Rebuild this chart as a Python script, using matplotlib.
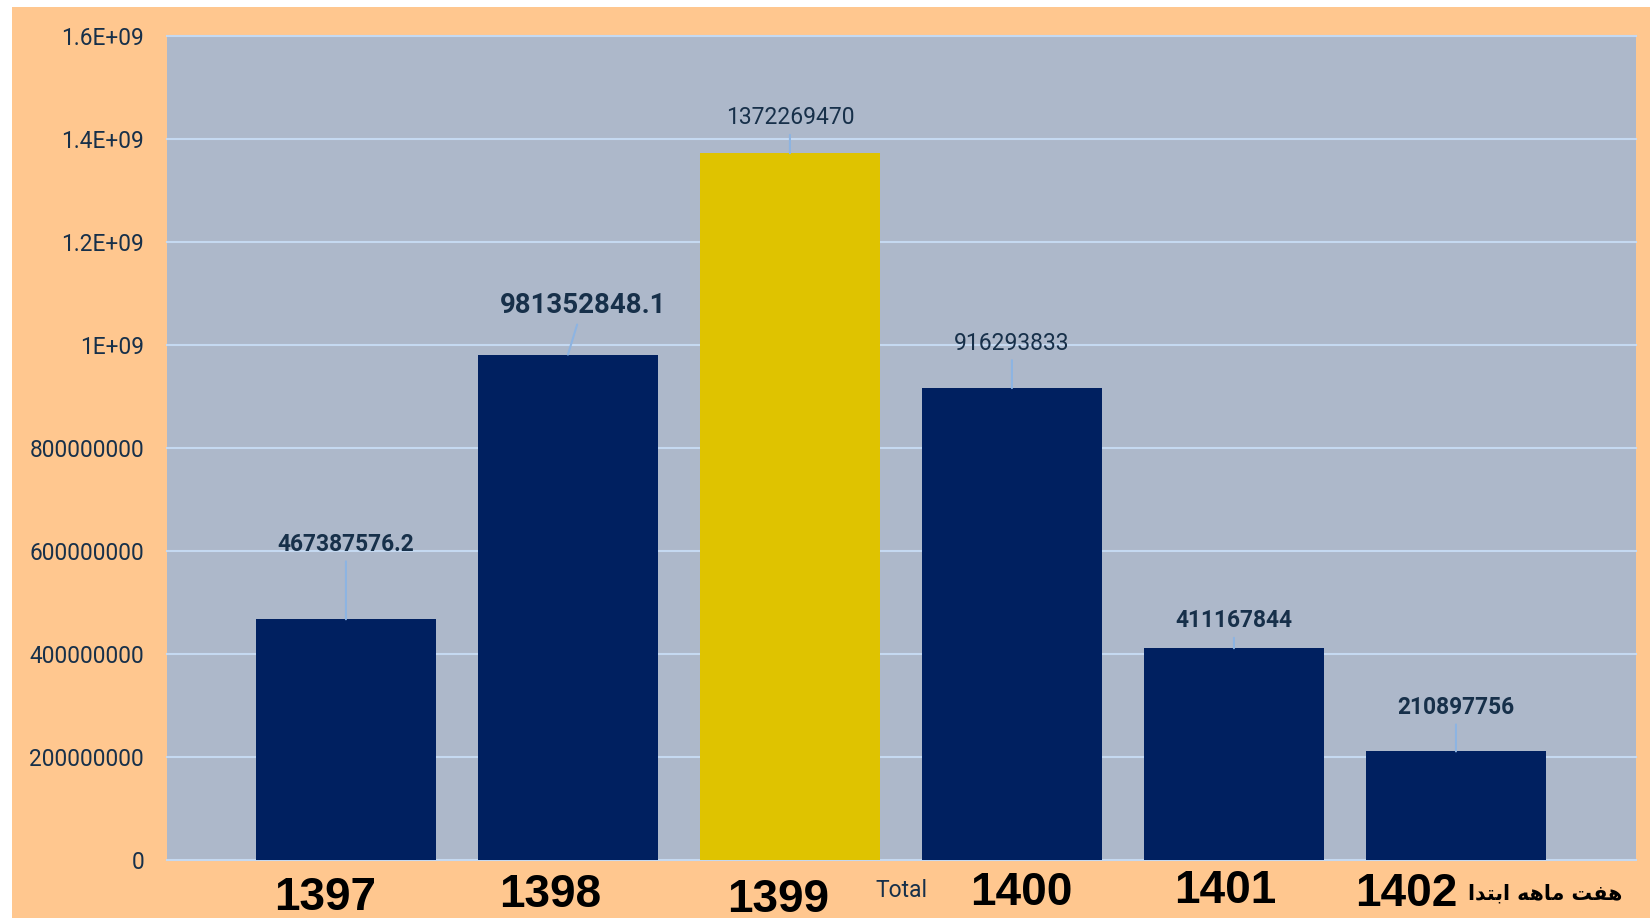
import matplotlib
matplotlib.use("Agg")
import matplotlib.pyplot as plt
from matplotlib.patches import Rectangle
from matplotlib.ticker import FixedLocator, FixedFormatter

# ---------------- data ----------------
categories = ["1397", "1398", "1399", "1400", "1401", "1402"]
values = [467387576.2, 981352848.1, 1372269470, 916293833, 411167844, 210897756]
value_labels = ["467387576.2", "981352848.1", "1372269470", "916293833", "411167844", "210897756"]
ytick_values = [0, 2e8, 4e8, 6e8, 8e8, 1e9, 1.2e9, 1.4e9, 1.6e9]
ytick_labels = ["0", "200000000", "400000000", "600000000", "800000000",
                "1E+09", "1.2E+09", "1.4E+09", "1.6E+09"]
total_text = "Total"
period_note = "هفت ماهه ابتدا"

# ---------------- styles ----------------
W, H, DPI = 1650, 918, 100
ORANGE = "#FFC78F"
PLOT_BG = "#ADB8CA"
NAVY = "#002060"
YELLOW = "#DFC300"
GRID = "#C5D9F1"
LEADER = "#8DB4E2"
TEXT = "#17304A"
bar_colors = [NAVY, NAVY, YELLOW, NAVY, NAVY, NAVY]
label_bold = [True, True, False, False, True, True]
label_size = [16.4, 19.9, 16.5, 16.5, 16.4, 16.4]
label_offset_px = [(0, 75), (15, 49), (0, 35.5), (0, 45), (0, 27.5), (0, 44)]
cat_offset_px = [(-21, -50), (-18, -47), (-12, -52), (9, -45), (-9, -43), (-50, -46)]

plt.rcParams["font.family"] = ["Roboto", "DejaVu Sans"]


def shape_arabic(s):
    # minimal Arabic contextual shaping (presentation forms) + visual reordering
    forms = {
        "\u0647": ("\uFEE9", "\uFEEA", "\uFEEB", "\uFEEC"),
        "\u0641": ("\uFED1", "\uFED2", "\uFED3", "\uFED4"),
        "\u062A": ("\uFE95", "\uFE96", "\uFE97", "\uFE98"),
        "\u0645": ("\uFEE1", "\uFEE2", "\uFEE3", "\uFEE4"),
        "\u0628": ("\uFE8F", "\uFE90", "\uFE91", "\uFE92"),
        "\u0627": ("\uFE8D", "\uFE8E", None, None),
        "\u062F": ("\uFEA9", "\uFEAA", None, None),
    }
    out = []
    for i, ch in enumerate(s):
        if ch not in forms:
            out.append(ch)
            continue
        prev = s[i - 1] if i > 0 else " "
        nxt = s[i + 1] if i + 1 < len(s) else " "
        joins_prev = prev in forms and forms[prev][2] is not None
        joins_next = nxt in forms and forms[ch][2] is not None
        iso, fin, ini, med = forms[ch]
        if joins_prev and joins_next:
            out.append(med)
        elif joins_prev:
            out.append(fin)
        elif joins_next:
            out.append(ini)
        else:
            out.append(iso)
    return "".join(reversed(out))


fig = plt.figure(figsize=(W / DPI, H / DPI), dpi=DPI, facecolor="white")
bg = Rectangle((12 / W, 0), 1 - 12 / W, 1 - 7 / H, transform=fig.transFigure,
               facecolor=ORANGE, edgecolor="none", zorder=-10)
fig.add_artist(bg)

ax = fig.add_axes([167 / W, 58 / H, 1469 / W, 824 / H])
ax.set_zorder(1)
ax.set_facecolor(PLOT_BG)
for sp in ax.spines.values():
    sp.set_visible(False)

x = list(range(len(categories)))
ax.bar(x, values, width=0.81, color=bar_colors, zorder=3)
ax.set_xlim(-0.806, 5.811)
ax.set_ylim(0, 1.6e9)

ax.yaxis.set_major_locator(FixedLocator(ytick_values))
ax.yaxis.set_major_formatter(FixedFormatter(ytick_labels))
for yv in ytick_values:
    ax.axhline(yv, color=GRID, lw=1.5, zorder=1, clip_on=False)
ax.tick_params(axis="y", length=0, pad=16.5, labelsize=16.3, labelcolor=TEXT)
ax.set_xticks([])

for i, v in enumerate(values):
    dx, dy = label_offset_px[i]
    ax.annotate(value_labels[i], xy=(x[i], v), xytext=(dx, dy), textcoords="offset pixels",
                ha="center", va="center", fontsize=label_size[i],
                fontweight="bold" if label_bold[i] else "normal", color=TEXT,
                arrowprops=dict(arrowstyle="-", color=LEADER, lw=1.5, shrinkA=2, shrinkB=0),
                zorder=5)

for i, c in enumerate(categories):
    dx, dy = cat_offset_px[i]
    ax.annotate(c, xy=(x[i], 0), xytext=(dx, dy), textcoords="offset pixels",
                ha="center", va="baseline", fontsize=33, fontweight="bold",
                family=["Liberation Sans", "DejaVu Sans"], color="black",
                annotation_clip=False)

fig.text(901 / W, 1 - 897 / H, total_text, ha="center", va="baseline",
         fontsize=16.5, color=TEXT, zorder=5)
fig.text(1545 / W, 1 - 899 / H, shape_arabic(period_note), ha="center", va="baseline",
         fontsize=14.8, fontweight="bold", family=["DejaVu Sans"], color="black", zorder=5)

fig.savefig("out.png", dpi=DPI, facecolor=fig.get_facecolor())
